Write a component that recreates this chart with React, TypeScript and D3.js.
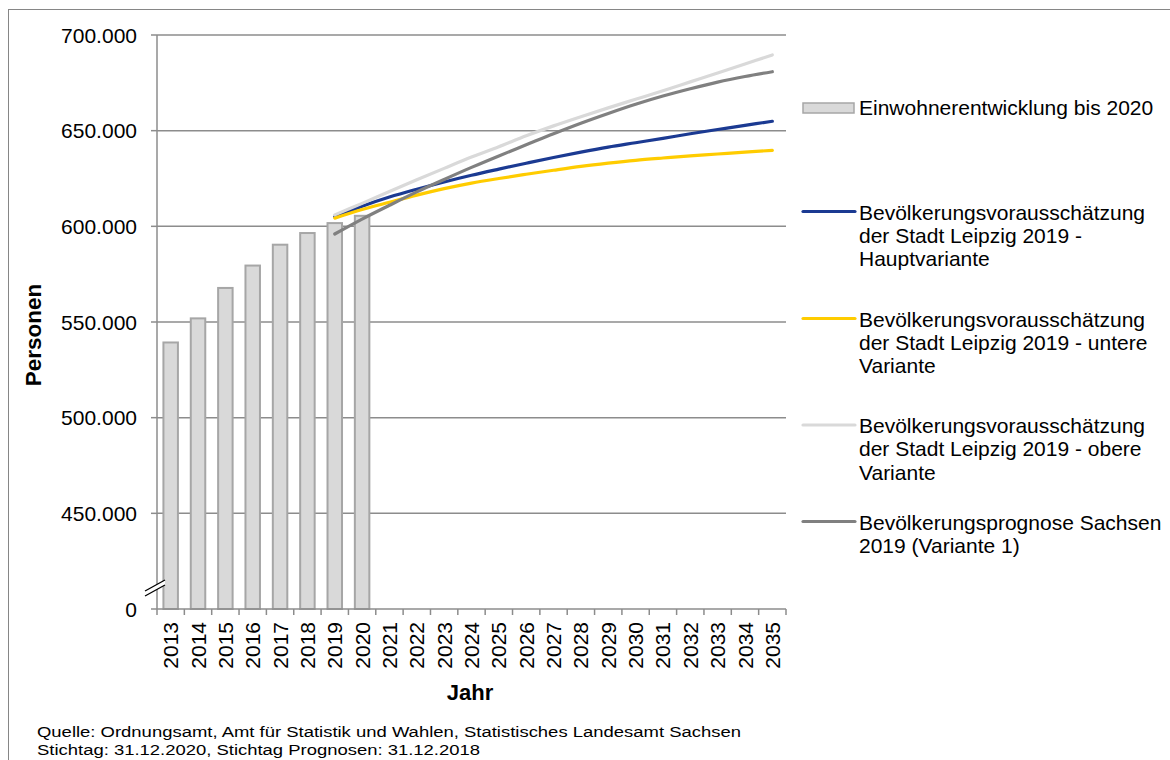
import React from "react";
import * as d3 from "d3";

const years = d3.range(2013, 2036).map(String);
const barYears = ["2013", "2014", "2015", "2016", "2017", "2018", "2019", "2020"];
const barValues = [539300, 551900, 567800, 579500, 590400, 596500, 601700, 605500];

const lineYears = ["2019", "2020", "2021", "2022", "2023", "2024", "2025", "2026", "2027", "2028", "2029", "2030", "2031", "2032", "2033", "2034", "2035"];
const hauptValues = [605000, 610500, 615300, 619400, 623200, 626700, 629900, 633000, 636000, 638800, 641400, 643700, 646000, 648400, 650600, 652800, 654900];
const untereValues = [604300, 608800, 612600, 616300, 619700, 622600, 625000, 627200, 629300, 631300, 633000, 634500, 635700, 636800, 637800, 638800, 639700];
const obereValues = [606000, 612000, 618200, 624300, 630300, 636200, 641600, 647300, 652500, 657300, 661900, 666400, 670900, 675500, 680100, 684800, 689600];
const sachsenValues = [596000, 603800, 611000, 618000, 624500, 630800, 636800, 642600, 648400, 653900, 659000, 663800, 668100, 671900, 675400, 678300, 680800];

const yTicks = [400000, 450000, 500000, 550000, 600000, 650000, 700000];

const seriesNames = [
  ["Bevölkerungsvorausschätzung", "der Stadt Leipzig 2019 -", "Hauptvariante"],
  ["Bevölkerungsvorausschätzung", "der Stadt Leipzig 2019 - untere", "Variante"],
  ["Bevölkerungsvorausschätzung", "der Stadt Leipzig 2019 - obere", "Variante"],
  ["Bevölkerungsprognose Sachsen", "2019 (Variante 1)"],
];
const barLegend = "Einwohnerentwicklung bis 2020";
const footer = [
  "Quelle: Ordnungsamt, Amt für Statistik und Wahlen, Statistisches Landesamt Sachsen",
  "Stichtag: 31.12.2020, Stichtag Prognosen: 31.12.2018",
];
const footerWidths = [704, 443];

const FONT = "'Liberation Sans', Arial, Helvetica, sans-serif";
const COLORS = ["#1B3A92", "#FFCC00", "#D9D9D9", "#808080"];
const GRID = "#8C8C8C";

export default function App() {
  const left = 157, right = 786, top = 35, bottom = 609;
  const x = d3.scaleBand().domain(years).range([left, right]).padding(0);
  const y = d3.scaleLinear().domain([400000, 700000]).range([bottom, top]);
  const de = d3.formatLocale({ decimal: ",", thousands: ".", grouping: [3], currency: ["", " €"] });
  const fmt = de.format(",.0f");
  const bw = x.bandwidth() * 0.53;
  const cx = (yr: string) => (x(yr) as number) + x.bandwidth() / 2;
  const line = d3
    .line<number>()
    .x((_, i) => cx(lineYears[i]))
    .y((v) => y(v))
    .curve(d3.curveCatmullRom.alpha(0.5));
  const series = [hauptValues, untereValues, obereValues, sachsenValues];
  const legendY = [211.5, 318.5, 425, 521.5];
  const lh = 23.3;

  return (
    <div style={{ position: "absolute", left: 0, top: 0 }}>
      <svg width={1170} height={760} style={{ display: "block", fontFamily: FONT }}>
        <rect x={0} y={0} width={1170} height={760} fill="#fff" />
        <rect x={8.5} y={9.5} width={1300} height={900} fill="none" stroke="#868686" strokeWidth={1} />
        {/* gridlines */}
        {yTicks.slice(1).map((t) => (
          <line key={t} x1={left} x2={right} y1={y(t)} y2={y(t)} stroke={GRID} strokeWidth={1.5} />
        ))}
        {/* y ticks */}
        {yTicks.map((t) => (
          <g key={"yt" + t}>
            <line x1={left - 6} x2={left} y1={y(t)} y2={y(t)} stroke={GRID} strokeWidth={1.5} />
            <text x={137} y={y(t)} dy="0.36em" textAnchor="end" fontSize={21} fill="#000">
              {t === 400000 ? "0" : fmt(t)}
            </text>
          </g>
        ))}
        {/* bars */}
        {barYears.map((yr, i) => (
          <rect
            key={yr}
            x={cx(yr) - bw / 2}
            y={y(barValues[i])}
            width={bw}
            height={y(400000) - y(barValues[i])}
            fill="#D9D9D9"
            stroke="#A6A6A6"
            strokeWidth={2}
          />
        ))}
        {/* axes */}
        <line x1={left} x2={left} y1={top} y2={bottom} stroke={GRID} strokeWidth={1.5} />
        <line x1={left} x2={right} y1={bottom} y2={bottom} stroke={GRID} strokeWidth={1.5} />
        {years.map((yr) => (
          <line key={"xt" + yr} x1={x(yr)} x2={x(yr)} y1={bottom} y2={bottom + 6} stroke={GRID} strokeWidth={1.5} />
        ))}
        <line x1={right} x2={right} y1={bottom} y2={bottom + 6} stroke={GRID} strokeWidth={1.5} />
        {years.map((yr) => (
          <text
            key={"xl" + yr}
            transform={`translate(${cx(yr)},${622}) rotate(-90)`}
            dy="0.36em"
            textAnchor="end"
            fontSize={21}
            fill="#000"
          >
            {yr}
          </text>
        ))}
        {/* axis break */}
        <polygon points="145,591 165,580 165,585 145,596" fill="#fff" />
        <line x1={145} y1={591} x2={165} y2={580} stroke="#000" strokeWidth={1.3} />
        <line x1={145} y1={596} x2={165} y2={585} stroke="#000" strokeWidth={1.3} />
        {/* lines */}
        {series.map((s, i) => (
          <path key={"ln" + i} d={line(s) as string} fill="none" stroke={COLORS[i]} strokeWidth={3.2} strokeLinecap="round" />
        ))}
        {/* axis titles */}
        <text transform="translate(41,335) rotate(-90)" textAnchor="middle" fontSize={22.5} fontWeight="bold" fill="#000">
          Personen
        </text>
        <text x={470} y={700} textAnchor="middle" fontSize={22} fontWeight="bold" fill="#000">
          Jahr
        </text>
        {/* legend */}
        <rect x={803} y={103} width={51} height={10} fill="#D9D9D9" stroke="#A6A6A6" strokeWidth={1.5} />
        <text x={859} y={114.5} fontSize={21} fill="#000">{barLegend}</text>
        {seriesNames.map((lines, i) => (
          <g key={"lg" + i}>
            <line x1={803} x2={855} y1={legendY[i]} y2={legendY[i]} stroke={COLORS[i]} strokeWidth={3.2} strokeLinecap="round" />
            {lines.map((t, j) => (
              <text key={j} x={859} y={legendY[i] + 8 + j * lh} fontSize={21} fill="#000">
                {t}
              </text>
            ))}
          </g>
        ))}
        {/* footer */}
        {footer.map((t, j) => (
          <text
            key={"f" + j}
            x={37}
            y={736.5 + j * 18}
            fontSize={15.5}
            textLength={footerWidths[j]}
            lengthAdjust="spacingAndGlyphs"
            fill="#000"
          >
            {t}
          </text>
        ))}
      </svg>
    </div>
  );
}
